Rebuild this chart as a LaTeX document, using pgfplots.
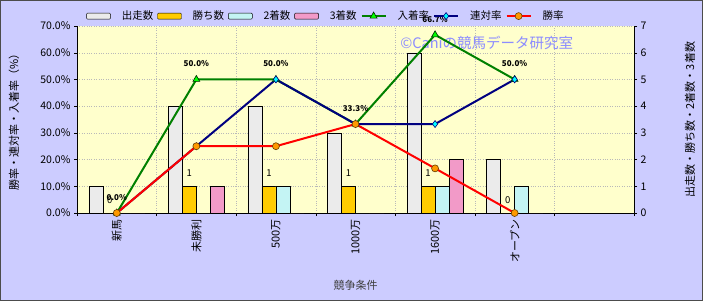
\documentclass[border=0pt]{standalone}
\usepackage{fontspec}
\setmainfont{Noto Sans CJK JP}
\usepackage{pgfplots}
\pgfplotsset{compat=1.18}
\definecolor{outerbg}{HTML}{CCCCFF}
\definecolor{plotbg}{HTML}{FFFFCC}
\definecolor{gold}{HTML}{FFCC00}
\definecolor{cyanl}{HTML}{C4F4F4}
\definecolor{pinkl}{HTML}{F29AC8}
\definecolor{whitebar}{HTML}{EBEBEB}
\definecolor{lgreen}{HTML}{008000}
\definecolor{lgreenf}{HTML}{00FF00}
\definecolor{navyl}{HTML}{000080}
\definecolor{cyanf}{HTML}{00FFFF}
\definecolor{orangef}{HTML}{FF9900}
\definecolor{wmark}{HTML}{8C8CFF}
\begin{document}
\begin{tikzpicture}
\fill[outerbg] (0,0) rectangle (703pt,301pt);
\pgfplotsset{
  common/.style={
    at={(77pt,88pt)}, anchor=south west, scale only axis,
    width=557pt, height=187pt,
    xmin=-0.5, xmax=6.5,
    tick align=outside, major tick length=3pt, minor tick length=3pt,
    tick style={black, thin},
    /pgf/number format/assume math mode=true,
    ticklabel style={font=\fontsize{10.5}{12}\selectfont},
  }
}
% bars, right axis
\begin{axis}[common,
  ymin=0, ymax=7, ytick={0,1,...,7},
  axis background/.style={fill=plotbg},
  axis x line*=bottom, axis y line*=right,
  axis line style={black, thin},
  xtick={0,1,2,3,4,5},
  xticklabels={新馬,未勝利,500万,1000万,1600万,オープン},
  xticklabel style={rotate=90, anchor=east, font=\fontsize{11}{12}\selectfont},
  major x tick style={draw=none},
  minor xtick={-0.5,0.5,...,6.5},
  xminorgrids, ymajorgrids,
  grid style={dotted, gray!55, thin},
  minor grid style={dotted, gray!55, thin},
  ybar=0pt, bar width=14pt,
  ylabel={出走数・勝ち数・2着数・3着数},
  ylabel style={at={(axis description cs:1.1005,0.5)}, anchor=center, font=\fontsize{11}{13}\selectfont},
  xlabel={競争条件},
  xlabel style={at={(axis description cs:0.5,-0.385)}, anchor=center, font=\fontsize{11}{13}\selectfont, text=black!75},
]
\addplot[draw=black, fill=whitebar]
  coordinates {(0,1) (1,4) (2,4) (3,3) (4,6) (5,2)};
\addplot[draw=black, fill=gold,
  nodes near coords, nodes near coords style={anchor=south, yshift=6pt, text=black, font=\fontsize{9.5}{10}\selectfont}]
  coordinates {(0,0) (1,1) (2,1) (3,1) (4,1) (5,0)};
\addplot[draw=black, fill=cyanl]
  coordinates {(0,0) (1,0) (2,1) (3,0) (4,1) (5,1)};
\addplot[draw=black, fill=pinkl]
  coordinates {(0,0) (1,1) (2,0) (3,0) (4,2) (5,0)};
\end{axis}
% lines, left axis
\begin{axis}[common,
  ymin=0, ymax=70, ytick={0,10,...,70},
  yticklabel={\pgfmathprintnumber[fixed,fixed zerofill,precision=1]{\tick}\%},
  axis x line=none, axis y line*=left,
  axis line style={black, thin},
  ylabel={勝率・連対率・入着率（\%）},
  ylabel style={at={(axis description cs:-0.113,0.5)}, anchor=center, font=\fontsize{11}{13}\selectfont},
  legend columns=-1,
  legend style={at={(axis description cs:0.447,1.053)}, anchor=center, draw=none, fill=none,
    font=\fontsize{10.5}{12}\selectfont, inner sep=0pt,
    /tikz/every odd column/.append style={column sep=9pt},
    /tikz/every even column/.append style={column sep=2pt}},
  legend image code/.code={\draw[mark repeat=2,mark phase=2,#1] plot coordinates {(0pt,0pt) (12pt,0pt) (24pt,0pt)};},
]
\node[text=wmark, font=\fontsize{14.5}{16}\selectfont] at (axis cs:4.65,63.6) {©Caniの競馬データ研究室};
\addlegendimage{legend image code/.code={\draw[black, thin, fill=whitebar, rounded corners=1pt] (0pt,-3pt) rectangle (24pt,3pt);}}
\addlegendentry{出走数}
\addlegendimage{legend image code/.code={\draw[black, thin, fill=gold, rounded corners=1pt] (0pt,-3pt) rectangle (24pt,3pt);}}
\addlegendentry{勝ち数}
\addlegendimage{legend image code/.code={\draw[black, thin, fill=cyanl, rounded corners=1pt] (0pt,-3pt) rectangle (24pt,3pt);}}
\addlegendentry{2着数}
\addlegendimage{legend image code/.code={\draw[black, thin, fill=pinkl, rounded corners=1pt] (0pt,-3pt) rectangle (24pt,3pt);}}
\addlegendentry{3着数}
\addplot[lgreen, line width=2pt, mark=triangle*, mark size=4pt,
  mark options={fill=lgreenf, draw=black!70!lgreen, line width=0.6pt},
  nodes near coords={\pgfmathprintnumber[fixed,fixed zerofill,precision=1]{\pgfplotspointmeta}\%},
  nodes near coords style={anchor=south, yshift=9pt, text=black, font=\fontsize{8}{9}\selectfont\bfseries}]
  coordinates {(0,0) (1,50) (2,50) (3,33.3) (4,66.7) (5,50)};
\addlegendentry{入着率}
\addplot[navyl, line width=2pt, mark=diamond*, mark size=3.5pt,
  mark options={fill=cyanf, draw=navyl, line width=0.6pt}]
  coordinates {(0,0) (1,25) (2,50) (3,33.3) (4,33.3) (5,50)};
\addlegendentry{連対率}
\addplot[red, line width=2pt, mark=*, mark size=3.5pt,
  mark options={fill=orangef, draw=black!60!orangef, line width=0.6pt}]
  coordinates {(0,0) (1,25) (2,25) (3,33.3) (4,16.7) (5,0)};
\addlegendentry{勝率}
\end{axis}
\draw[black!70, line width=1pt] (0.5pt,0.5pt) rectangle (702.5pt,300.5pt);
\pgfresetboundingbox
\path[use as bounding box] (0,0) rectangle (703pt,301pt);
\end{tikzpicture}
\end{document}
